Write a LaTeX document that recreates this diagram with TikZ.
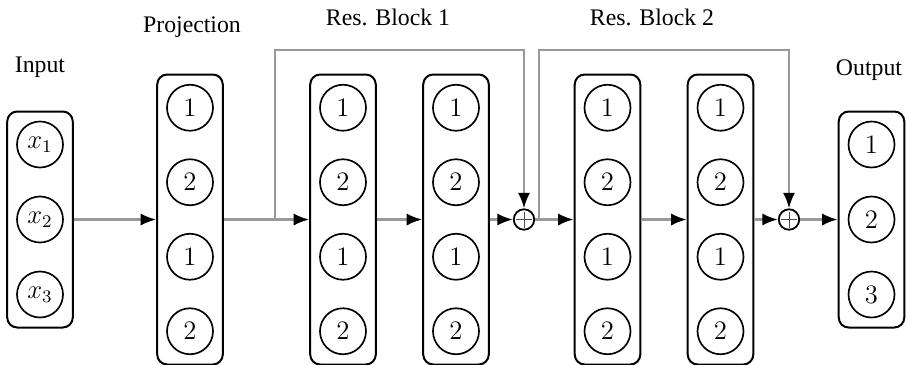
\documentclass[tikz,border=0pt]{standalone}
\usepackage[no-math]{fontspec}
\setmainfont{Liberation Serif}
\usetikzlibrary{arrows.meta}
\begin{document}
\begin{tikzpicture}[x=0.45pt,y=-0.45pt,
  unit/.style={circle,draw,line width=0.75pt,minimum size=20.7pt,inner sep=0pt,font=\fontsize{11.9}{13}\selectfont},
  colbox/.style={draw,rounded corners=4.5pt,line width=0.9pt,minimum width=29.5pt,inner sep=0pt},
  tallbox/.style={colbox,minimum height=130.5pt},
  shortbox/.style={colbox,minimum height=97.2pt},
  conn/.style={draw=black!40,line width=1.1pt,-{Latex[length=7pt,width=5.5pt,black]}},
  addnode/.style={circle,draw,line width=0.8pt,minimum size=9.2pt,inner sep=0pt,
    path picture={\draw[line width=0.4pt,black!70] ([yshift=-1pt]path picture bounding box.north) -- ([yshift=1pt]path picture bounding box.south)
      ([xshift=1pt]path picture bounding box.west) -- ([xshift=-1pt]path picture bounding box.east);}},
  lbl/.style={font=\fontsize{10.7}{12}\selectfont}]
\useasboundingbox (0,0) rectangle (907,364);

% labels
\node[lbl] (lin) at (40,67) {Input};
\node[lbl] (lproj) at (192,27) {Projection};
\node[lbl] (lr1) at (388,17) {Res. Block 1};
\node[lbl] (lr2) at (652,17) {Res. Block 2};
\node[lbl] (lout) at (869,70) {Output};

% input
\node[shortbox] (inp) at (40,219.5) {};
\node[unit] (x1) at (40,144.5) {$x_1$};
\node[unit] (x2) at (40,219.5) {$x_2$};
\node[unit] (x3) at (40,294.5) {$x_3$};

% four-unit columns
\foreach \nm/\cx in {proj/190, r1a/343, r1b/456, r2a/607.5, r2b/720.5}{
  \node[tallbox] (\nm) at (\cx,219.5) {};
  \node[unit] (\nm-1) at (\cx,107.75) {$1$};
  \node[unit] (\nm-2) at (\cx,182.25) {$2$};
  \node[unit] (\nm-3) at (\cx,256.75) {$1$};
  \node[unit] (\nm-4) at (\cx,331.25) {$2$};
}

% output
\node[shortbox] (out) at (871.5,219.5) {};
\node[unit] (o1) at (871.5,144.5) {$1$};
\node[unit] (o2) at (871.5,219.5) {$2$};
\node[unit] (o3) at (871.5,294.5) {$3$};

% adders
\node[addnode] (p1) at (524,219.5) {};
\node[addnode] (p2) at (789,219.5) {};

% main connections
\draw[conn] (inp) -- (proj);
\draw[conn] (proj) -- (r1a);
\draw[conn] (r1a) -- (r1b);
\draw[conn] (r1b) -- (p1);
\draw[conn] (p1) -- (r2a);
\draw[conn] (r2a) -- (r2b);
\draw[conn] (r2b) -- (p2);
\draw[conn] (p2) -- (out);

% skip connections
\coordinate (s1) at (275,219.5);
\coordinate (t1) at (275,50);
\coordinate (s2) at (539,219.5);
\coordinate (t2) at (539,50);
\draw[conn] (s1) -- (t1) -| (p1);
\draw[conn] (s2) -- (t2) -| (p2);
\end{tikzpicture}
\end{document}
